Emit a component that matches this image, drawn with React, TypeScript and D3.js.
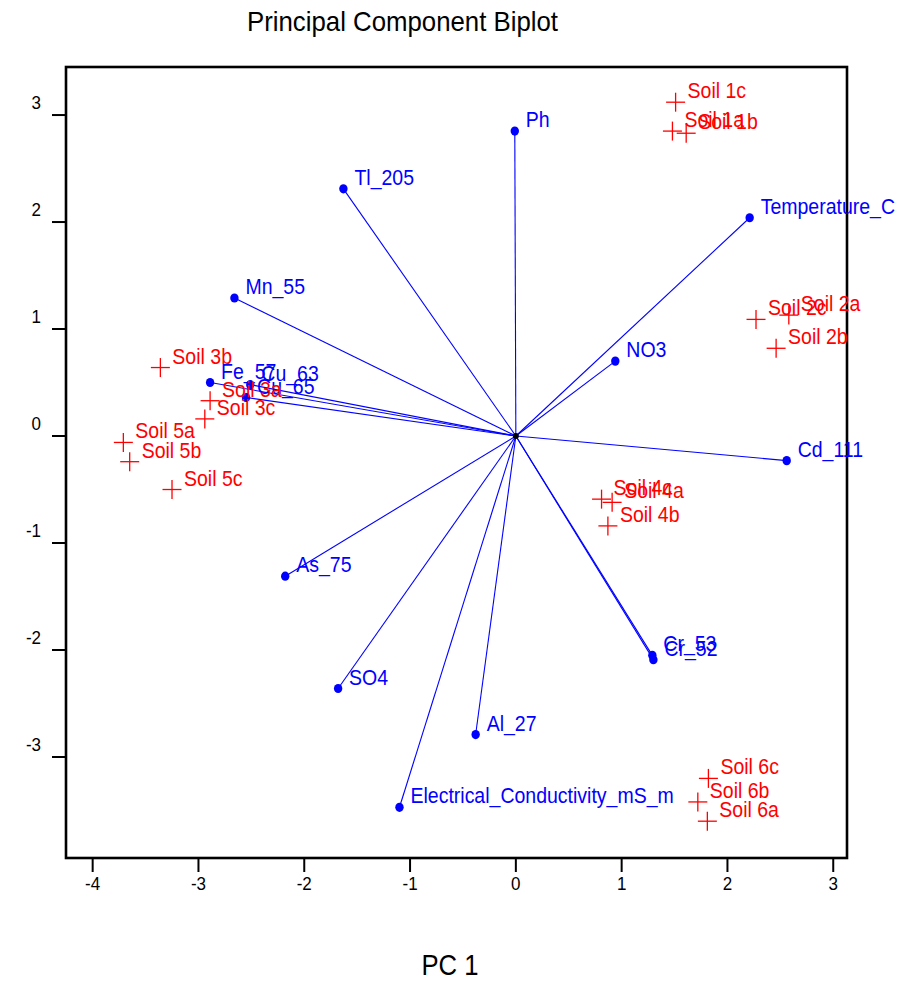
import React from "react";
import * as d3 from "d3";

const loadingNames = ["Ph", "Tl_205", "Temperature_C", "Mn_55", "Fe_57", "Cu_63", "Cu_65", "NO3", "Cd_111", "As_75", "SO4", "Al_27", "Electrical_Conductivity_mS_m", "Cr_53", "Cr_52"];
const loadingPC1 = [-0.01, -1.63, 2.21, -2.66, -2.89, -2.51, -2.55, 0.94, 2.56, -2.18, -1.68, -0.38, -1.10, 1.29, 1.30];
const loadingPC2 = [2.85, 2.31, 2.04, 1.29, 0.50, 0.48, 0.36, 0.70, -0.23, -1.31, -2.36, -2.79, -3.47, -2.05, -2.09];

const sampleNames = ["Soil 1c", "Soil 1a", "Soil 1b", "Soil 2c", "Soil 2a", "Soil 2b", "Soil 3b", "Soil 3a", "Soil 3c", "Soil 5a", "Soil 5b", "Soil 5c", "Soil 4c", "Soil 4a", "Soil 4b", "Soil 6c", "Soil 6b", "Soil 6a"];
const samplePC1 = [1.51, 1.48, 1.61, 2.27, 2.58, 2.46, -3.36, -2.89, -2.94, -3.71, -3.65, -3.25, 0.81, 0.91, 0.87, 1.82, 1.72, 1.81];
const samplePC2 = [3.12, 2.85, 2.83, 1.09, 1.13, 0.82, 0.64, 0.33, 0.16, -0.06, -0.24, -0.50, -0.59, -0.62, -0.84, -3.20, -3.42, -3.60];

const xTicks = [-4, -3, -2, -1, 0, 1, 2, 3];
const yTicks = [-3, -2, -1, 0, 1, 2, 3];

const FONT = "'Liberation Sans', Arial, Helvetica, sans-serif";
const BLUE = "#0000ff";
const RED = "#ff0000";

export default function App() {
  const left = 66, right = 847, top = 67, bottom = 858;
  const x = d3.scaleLinear().domain([-4.252, 3.13]).range([left, right]);
  const y = d3.scaleLinear().domain([-3.944, 3.449]).range([bottom, top]);
  const x0 = x(0), y0 = y(0);

  const label = (tx: number, ty: number, text: string, fill: string, size: number, anchor = "start", key?: string | number) => (
    <g key={key} transform={`translate(${tx},${ty}) scale(1,1.13)`}>
      <text x={0} y={0} fontFamily={FONT} fontSize={size} fill={fill} textAnchor={anchor}>{text}</text>
    </g>
  );

  return (
    <svg width={919} height={981} style={{ position: "absolute", left: 0, top: 0, background: "#fff" }}>
      <rect x={0} y={0} width={919} height={981} fill="#fff" />
      {/* title */}
      <text x={402.5} y={31} fontFamily={FONT} fontSize={28} textAnchor="middle" textLength={311} lengthAdjust="spacingAndGlyphs" fill="#000">Principal Component Biplot</text>

      {/* frame */}
      <rect x={left} y={top} width={right - left} height={bottom - top} fill="none" stroke="#000" strokeWidth={2.6} />

      {/* y ticks */}
      {yTicks.map((t) => (
        <g key={"y" + t}>
          <line x1={left - 14} x2={left} y1={y(t)} y2={y(t)} stroke="#000" strokeWidth={2} />
          {label(41, y(t) - 6, String(t), "#000", 17, "end")}
        </g>
      ))}
      {/* x ticks */}
      {xTicks.map((t) => (
        <g key={"x" + t}>
          <line x1={x(t)} x2={x(t)} y1={bottom} y2={bottom + 14} stroke="#000" strokeWidth={2} />
          {label(x(t), 890, String(t), "#000", 17, "middle")}
        </g>
      ))}

      {/* x axis title */}
      <text x={450} y={975} fontFamily={FONT} fontSize={30} textAnchor="middle" textLength={57} lengthAdjust="spacingAndGlyphs" fill="#000">PC 1</text>

      {/* loading vectors */}
      {loadingNames.map((n, i) => (
        <line key={"l" + n} x1={x0} y1={y0} x2={x(loadingPC1[i])} y2={y(loadingPC2[i])} stroke={BLUE} strokeWidth={1.1} />
      ))}
      {loadingNames.map((n, i) => (
        <ellipse key={"d" + n} cx={x(loadingPC1[i])} cy={y(loadingPC2[i])} rx={4.2} ry={4.6} fill={BLUE} />
      ))}
      <circle cx={x0} cy={y0} r={3} fill="#000" />

      {/* sample crosses */}
      {sampleNames.map((n, i) => {
        const cx = x(samplePC1[i]), cy = y(samplePC2[i]);
        return (
          <g key={"c" + n}>
            <line x1={cx - 9.5} x2={cx + 9.5} y1={cy} y2={cy} stroke={RED} strokeWidth={1.3} />
            <line x1={cx} x2={cx} y1={cy - 9.5} y2={cy + 9.5} stroke={RED} strokeWidth={1.3} />
          </g>
        );
      })}

      {/* loading labels */}
      {loadingNames.map((n, i) => label(x(loadingPC1[i]) + 11, y(loadingPC2[i]) - 4, n, BLUE, 19.5, "start", "t" + n))}
      {/* sample labels */}
      {sampleNames.map((n, i) => label(x(samplePC1[i]) + 12, y(samplePC2[i]) - 4, n, RED, 19.5, "start", "s" + n))}
    </svg>
  );
}
